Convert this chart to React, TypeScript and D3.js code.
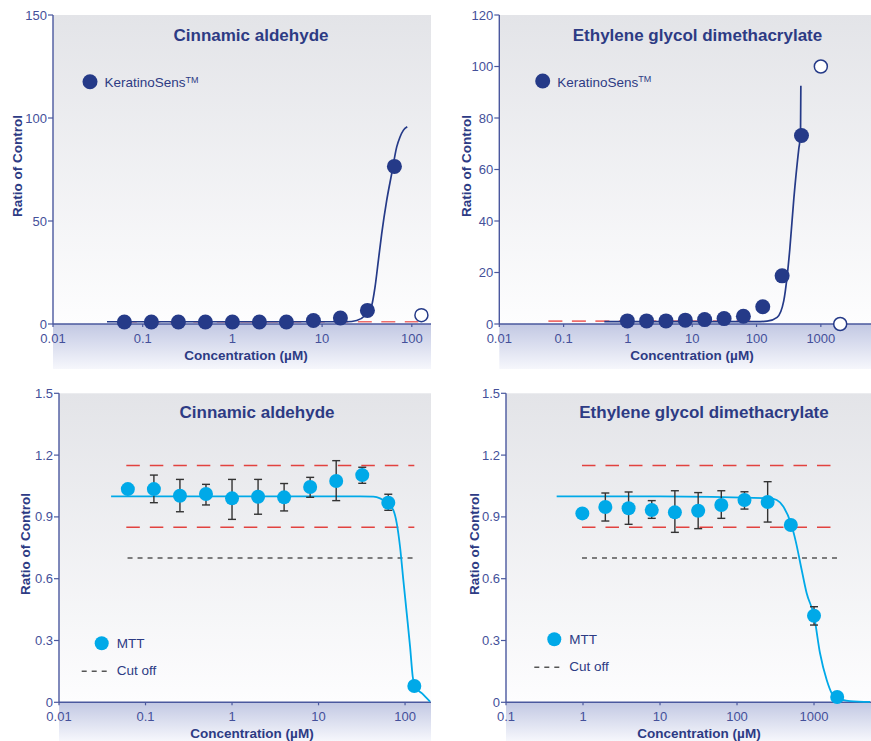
import React from 'react';
import * as d3 from 'd3';

const FONT = "'Liberation Sans', Arial, Helvetica, sans-serif";
const NAVY = '#253a88';
const TEXT = '#2d3b84';
const TICK_TEXT = '#44509a';
const AXIS = '#4a589e';
const CYAN = '#00a9e8';
const RED_TOP = '#ee6e6c';
const RED = '#e2423f';
const CUT = '#555555';

// ---------- Top-left: Cinnamic aldehyde, KeratinoSens ----------
const TL_CONC = [0.0625, 0.125, 0.25, 0.5, 1, 2, 4, 8, 16, 32, 64];
const TL_KS = [1.0, 1.0, 1.0, 1.0, 1.0, 1.0, 1.0, 1.7, 2.9, 6.6, 76.5];
const TL_OPEN_CONC = [128];
const TL_OPEN_KS = [4.3];
const TL_FIT_CONC = [0.04, 1, 10, 18.8, 24.3, 30.1, 35.7, 38.9, 42.4, 46.2, 52.5, 59.7, 67.9, 73.9, 80.4, 89];
const TL_FIT_KS = [1.1, 1.1, 1.1, 1.1, 1.7, 4.1, 9.0, 17.9, 30.9, 43.9, 60, 73, 86, 90.8, 94, 95.7];
const TL_THRESH = { from: 0.06, to: 118, value: 1.1 };

// ---------- Top-right: EGDMA, KeratinoSens ----------
const TR_CONC = [0.98, 1.95, 3.91, 7.81, 15.6, 31.3, 62.5, 125, 250, 500];
const TR_KS = [1.2, 1.2, 1.2, 1.5, 1.7, 2.1, 3.0, 6.7, 18.7, 73.2];
const TR_OPEN_CONC = [1000, 2000];
const TR_OPEN_KS = [100, 0];
const TR_FIT_CONC = [0.43, 10, 100, 146, 209, 265, 300, 329, 380, 454, 483, 489];
const TR_FIT_KS = [0.9, 0.9, 0.9, 1.1, 2.6, 9, 18.8, 29, 48.6, 68, 73.6, 92.5];
const TR_THRESH = { from: 0.058, to: 100, value: 1.1 };

// ---------- Bottom-left: Cinnamic aldehyde, MTT ----------
const BL_CONC = [0.0625, 0.125, 0.25, 0.5, 1, 2, 4, 8, 16, 32, 64, 128];
const BL_MTT = [1.035, 1.035, 1.003, 1.011, 0.99, 0.998, 0.995, 1.045, 1.074, 1.103, 0.969, 0.079];
const BL_HI = [null, 1.103, 1.082, 1.058, 1.082, 1.082, 1.062, 1.092, 1.173, 1.141, 1.01, null];
const BL_LO = [null, 0.969, 0.925, 0.958, 0.888, 0.913, 0.929, 0.995, 0.979, 1.063, 0.932, null];
const BL_FIT_CONC = [0.04, 1, 30.2, 43, 51.4, 61.4, 73.2, 80.2, 87.5, 95.5, 104.6, 114.3, 122.7, 130.5, 156, 194.5];
const BL_FIT_MTT = [1.0, 1.0, 1.0, 0.998, 0.99, 0.97, 0.933, 0.869, 0.755, 0.594, 0.432, 0.27, 0.124, 0.076, 0.044, 0.003];
const BL_BANDS = { from: 0.06, to: 128, upper: 1.15, lower: 0.85 };
const BL_CUTOFF = { from: 0.062, to: 130, value: 0.7 };

// ---------- Bottom-right: EGDMA, MTT ----------
const BR_CONC = [0.98, 1.95, 3.91, 7.81, 15.6, 31.3, 62.5, 125, 250, 500, 1000, 2000];
const BR_MTT = [0.917, 0.948, 0.942, 0.933, 0.922, 0.93, 0.958, 0.982, 0.972, 0.861, 0.42, 0.026];
const BR_HI = [null, 1.016, 1.021, 0.979, 1.027, 1.018, 1.027, 1.022, 1.071, null, 0.464, null];
const BR_LO = [null, 0.88, 0.864, 0.893, 0.825, 0.843, 0.893, 0.938, 0.875, null, 0.375, null];
const BR_FIT_CONC = [0.455, 10, 268, 328, 399, 500, 580, 692, 803, 1000, 1197, 1462, 1698, 1972, 2937, 5333];
const BR_FIT_MTT = [1.0, 1.0, 0.99, 0.982, 0.95, 0.87, 0.78, 0.642, 0.529, 0.42, 0.238, 0.108, 0.044, 0.02, 0.006, 0.002];
const BR_BANDS = { from: 0.97, to: 1800, upper: 1.15, lower: 0.85 };
const BR_CUTOFF = { from: 0.97, to: 2080, value: 0.7 };

// ---------- Ticks ----------
const X_TICKS_TL = [0.01, 0.1, 1, 10, 100];
const X_TICKS_TR = [0.01, 0.1, 1, 10, 100, 1000];
const X_TICKS_BL = [0.01, 0.1, 1, 10, 100];
const X_TICKS_BR = [0.1, 1, 10, 100, 1000];
const Y_TICKS_TL = [0, 50, 100, 150];
const Y_TICKS_TR = [0, 20, 40, 60, 80, 100, 120];
const Y_TICKS_B = [0, 0.3, 0.6, 0.9, 1.2, 1.5];

const TITLE_CA = 'Cinnamic aldehyde';
const TITLE_EG = 'Ethylene glycol dimethacrylate';
const X_LABEL = 'Concentration (µM)';
const Y_LABEL = 'Ratio of Control';

type PanelCfg = {
  id: string;
  x0: number; x1: number; yTop: number; yAxis: number; bandBottom: number;
  xDomain: [number, number]; yDomain: [number, number];
  xTicks: number[]; yTicks: number[];
  title: string; titleX: number; titleY: number;
  xlabelX: number; xlabelY: number; ylabelX: number; ylabelY: number;
};

const fmtX = (v: number) => String(v);
const fmtY = (v: number) => (v === 0 ? '0' : String(+v.toFixed(1)));

function Frame({ cfg, children }: { cfg: PanelCfg; children: (x: any, y: any) => React.ReactNode }) {
  const x = d3.scaleLog().domain(cfg.xDomain).range([cfg.x0, cfg.x1]);
  const y = d3.scaleLinear().domain(cfg.yDomain).range([cfg.yAxis, cfg.yTop]);
  const w = cfg.x1 - cfg.x0;
  return (
    <g>
      <defs>
        <linearGradient id={`bg-${cfg.id}`} x1="0" y1="0" x2="0" y2="1">
          <stop offset="0" stopColor="#e3e4e8" />
          <stop offset="1" stopColor="#fdfdfe" />
        </linearGradient>
        <linearGradient id={`band-${cfg.id}`} x1="0" y1="0" x2="0" y2="1">
          <stop offset="0" stopColor="#c2c8e3" />
          <stop offset="1" stopColor="#f6f7fc" />
        </linearGradient>
      </defs>
      <rect x={cfg.x0} y={cfg.yTop} width={w} height={cfg.yAxis - cfg.yTop} fill={`url(#bg-${cfg.id})`} />
      <rect x={cfg.x0} y={cfg.yAxis} width={w} height={cfg.bandBottom - cfg.yAxis} fill={`url(#band-${cfg.id})`} />
      <line x1={cfg.x0} x2={cfg.x0} y1={cfg.yTop} y2={cfg.yAxis} stroke={AXIS} strokeWidth={1.4} />
      <line x1={cfg.x0} x2={cfg.x1} y1={cfg.yAxis} y2={cfg.yAxis} stroke={AXIS} strokeWidth={1.4} />
      {cfg.yTicks.map((t) => (
        <g key={`yt${t}`}>
          <line x1={cfg.x0 - 5} x2={cfg.x0} y1={y(t)} y2={y(t)} stroke={AXIS} strokeWidth={1.2} />
          <text x={cfg.x0 - 6} y={y(t)} dy="0.35em" textAnchor="end" fontSize={13} fill={TICK_TEXT} fontFamily={FONT}>
            {fmtY(t)}
          </text>
        </g>
      ))}
      {cfg.xTicks.map((t) => (
        <g key={`xt${t}`}>
          <line x1={x(t)} x2={x(t)} y1={cfg.yAxis} y2={cfg.yAxis + 3} stroke={AXIS} strokeWidth={1.2} />
          <text x={x(t)} y={cfg.yAxis + 19} textAnchor="middle" fontSize={13} fill={TICK_TEXT} fontFamily={FONT}>
            {fmtX(t)}
          </text>
        </g>
      ))}
      <text x={cfg.titleX} y={cfg.titleY} textAnchor="middle" fontSize={17} fontWeight="bold" fill={TEXT} fontFamily={FONT}>
        {cfg.title}
      </text>
      <text x={cfg.xlabelX} y={cfg.xlabelY} textAnchor="middle" fontSize={13.5} fontWeight="bold" fill={TEXT} fontFamily={FONT}>
        {X_LABEL}
      </text>
      <text
        transform={`translate(${cfg.ylabelX},${cfg.ylabelY}) rotate(-90)`}
        textAnchor="middle" fontSize={13.5} fontWeight="bold" fill={TEXT} fontFamily={FONT}
      >
        {Y_LABEL}
      </text>
      {children(x, y)}
    </g>
  );
}

function fitPath(x: any, y: any, cs: number[], vs: number[]) {
  const pts = cs.map((c, i) => [x(c), y(vs[i])] as [number, number]);
  return d3.line().curve(d3.curveMonotoneX)(pts) || '';
}

const TL_CFG: PanelCfg = {
  id: 'tl', x0: 53, x1: 431, yTop: 15, yAxis: 324, bandBottom: 369,
  xDomain: [0.01, 163.7], yDomain: [0, 150], xTicks: X_TICKS_TL, yTicks: Y_TICKS_TL,
  title: TITLE_CA, titleX: 251, titleY: 41, xlabelX: 246, xlabelY: 360, ylabelX: 22, ylabelY: 166,
};
const TR_CFG: PanelCfg = {
  id: 'tr', x0: 499.3, x1: 871, yTop: 15, yAxis: 324, bandBottom: 369,
  xDomain: [0.01, 6026], yDomain: [0, 120], xTicks: X_TICKS_TR, yTicks: Y_TICKS_TR,
  title: TITLE_EG, titleX: 697.5, titleY: 41, xlabelX: 692, xlabelY: 360, ylabelX: 470.5, ylabelY: 166,
};
const BL_CFG: PanelCfg = {
  id: 'bl', x0: 59, x1: 431, yTop: 393.3, yAxis: 702.3, bandBottom: 741,
  xDomain: [0.01, 199.5], yDomain: [0, 1.5], xTicks: X_TICKS_BL, yTicks: Y_TICKS_B,
  title: TITLE_CA, titleX: 257, titleY: 418, xlabelX: 252, xlabelY: 738, ylabelX: 30, ylabelY: 544,
};
const BR_CFG: PanelCfg = {
  id: 'br', x0: 506, x1: 871, yTop: 393.3, yAxis: 702.3, bandBottom: 741,
  xDomain: [0.1, 5495], yDomain: [0, 1.5], xTicks: X_TICKS_BR, yTicks: Y_TICKS_B,
  title: TITLE_EG, titleX: 704, titleY: 418, xlabelX: 699, xlabelY: 738, ylabelX: 478.5, ylabelY: 544,
};

function KsPanel({ cfg, conc, vals, openC, openV, fitC, fitV, thresh, legend }: any) {
  return (
    <Frame cfg={cfg}>
      {(x: any, y: any) => (
        <g>
          <line x1={x(thresh.from)} x2={x(thresh.to)} y1={y(thresh.value)} y2={y(thresh.value)}
            stroke={RED_TOP} strokeWidth={1.6} strokeDasharray="14,9.5" />
          <path d={fitPath(x, y, fitC, fitV)} fill="none" stroke={NAVY} strokeWidth={1.7} />
          {conc.map((c: number, i: number) => (
            <circle key={i} cx={x(c)} cy={y(vals[i])} r={7.5} fill={NAVY} />
          ))}
          {openC.map((c: number, i: number) => (
            <circle key={`o${i}`} cx={x(c)} cy={y(openV[i])} r={6.5} fill="#ffffff" stroke={NAVY} strokeWidth={1.5} />
          ))}
          <circle cx={legend.x} cy={legend.y} r={7.5} fill={NAVY} />
          <text x={legend.x + 14.5} y={legend.y + 5.5} fontSize={13.5} fill={TEXT} fontFamily={FONT}>
            KeratinoSens<tspan fontSize={9} dy={-4.5}>TM</tspan>
          </text>
        </g>
      )}
    </Frame>
  );
}

function MttPanel({ cfg, conc, vals, hi, lo, fitC, fitV, bands, cutoff, legend }: any) {
  return (
    <Frame cfg={cfg}>
      {(x: any, y: any) => (
        <g>
          {[bands.upper, bands.lower].map((v: number) => (
            <line key={v} x1={x(bands.from)} x2={x(bands.to)} y1={y(v)} y2={y(v)}
              stroke={RED} strokeWidth={1.5} strokeDasharray="13.5,10" />
          ))}
          <line x1={x(cutoff.from)} x2={x(cutoff.to)} y1={y(cutoff.value)} y2={y(cutoff.value)}
            stroke={CUT} strokeWidth={1.5} strokeDasharray="5,5" />
          <path d={fitPath(x, y, fitC, fitV)} fill="none" stroke={CYAN} strokeWidth={1.8} />
          {conc.map((c: number, i: number) =>
            hi[i] == null ? null : (
              <g key={`e${i}`} stroke="#333333" strokeWidth={1.4}>
                <line x1={x(c)} x2={x(c)} y1={y(hi[i])} y2={y(lo[i])} />
                <line x1={x(c) - 4} x2={x(c) + 4} y1={y(hi[i])} y2={y(hi[i])} />
                <line x1={x(c) - 4} x2={x(c) + 4} y1={y(lo[i])} y2={y(lo[i])} />
              </g>
            )
          )}
          {conc.map((c: number, i: number) => (
            <circle key={i} cx={x(c)} cy={y(vals[i])} r={7} fill={CYAN} />
          ))}
          <circle cx={legend.x} cy={legend.y} r={7} fill={CYAN} />
          <text x={legend.x + 15} y={legend.y + 5} fontSize={13.5} fill={TEXT} fontFamily={FONT}>MTT</text>
          <line x1={legend.x - 20} x2={legend.x + 7} y1={legend.y + 28} y2={legend.y + 28}
            stroke={CUT} strokeWidth={1.5} strokeDasharray="5,5" />
          <text x={legend.x + 15} y={legend.y + 32} fontSize={13.5} fill={TEXT} fontFamily={FONT}>Cut off</text>
        </g>
      )}
    </Frame>
  );
}

export default function App() {
  return (
    <svg width={871} height={741} style={{ position: 'absolute', left: 0, top: 0, background: '#ffffff' }}>
      <rect x={0} y={0} width={871} height={741} fill="#ffffff" />
      <KsPanel cfg={TL_CFG} conc={TL_CONC} vals={TL_KS} openC={TL_OPEN_CONC} openV={TL_OPEN_KS}
        fitC={TL_FIT_CONC} fitV={TL_FIT_KS} thresh={TL_THRESH} legend={{ x: 90, y: 81.7 }} />
      <KsPanel cfg={TR_CFG} conc={TR_CONC} vals={TR_KS} openC={TR_OPEN_CONC} openV={TR_OPEN_KS}
        fitC={TR_FIT_CONC} fitV={TR_FIT_KS} thresh={TR_THRESH} legend={{ x: 542.7, y: 81 }} />
      <MttPanel cfg={BL_CFG} conc={BL_CONC} vals={BL_MTT} hi={BL_HI} lo={BL_LO}
        fitC={BL_FIT_CONC} fitV={BL_FIT_MTT} bands={BL_BANDS} cutoff={BL_CUTOFF} legend={{ x: 101.7, y: 643.3 }} />
      <MttPanel cfg={BR_CFG} conc={BR_CONC} vals={BR_MTT} hi={BR_HI} lo={BR_LO}
        fitC={BR_FIT_CONC} fitV={BR_FIT_MTT} bands={BR_BANDS} cutoff={BR_CUTOFF} legend={{ x: 554.3, y: 639.3 }} />
    </svg>
  );
}
